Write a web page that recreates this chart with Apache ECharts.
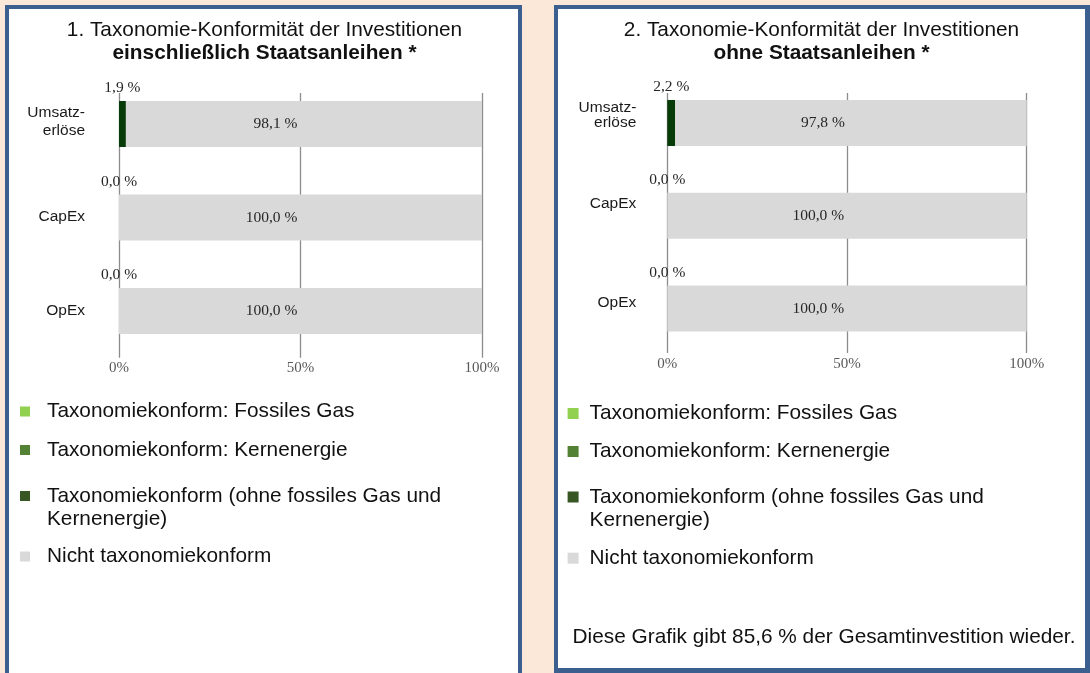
<!DOCTYPE html>
<html>
<head>
<meta charset="utf-8">
<script src="https://cdn.jsdelivr.net/npm/echarts@6/dist/echarts.min.js"></script>
<style>
  html, body { margin:0; padding:0; width:1090px; height:673px; overflow:hidden; background:#fce8d8; }
  .panel { position:absolute; background:#fff; border:4px solid #3b5f8f; box-sizing:border-box; }
  #p1 { left:5px; top:5px; width:517px; height:700px; }
  #p2 { left:554px; top:5px; width:536px; height:668px; border-right-width:5px; border-bottom-width:5px; }
  #chart { position:absolute; left:0; top:0; width:1090px; height:673px; }
</style>
</head>
<body>
<div class="panel" id="p1"></div>
<div class="panel" id="p2"></div>
<div id="chart"></div>
<script>
// Kategorien und Werte (in %)
var categories = ['Umsatz-\nerlöse', 'CapEx', 'OpEx'];
var xTicks = [0, 50, 100];

// 1. einschließlich Staatsanleihen
var gasIncl = [0, 0, 0];
var nuclearIncl = [0, 0, 0];
var alignedIncl = [1.9, 0, 0];
var notAlignedIncl = [98.1, 100, 100];

// 2. ohne Staatsanleihen
var gasExcl = [0, 0, 0];
var nuclearExcl = [0, 0, 0];
var alignedExcl = [2.2, 0, 0];
var notAlignedExcl = [97.8, 100, 100];

var seriesNames = [
    'Taxonomiekonform: Fossiles Gas',
    'Taxonomiekonform: Kernenergie',
    'Taxonomiekonform (ohne fossiles Gas und Kernenergie)',
    'Nicht taxonomiekonform'
];
var legendColors = ['#92d050', '#548235', '#375623', '#d9d9d9'];
var barColors = ['#92d050', '#548235', '#073b07', '#d9d9d9'];

var sansFont = '"Liberation Sans", Arial, sans-serif';
var serifFont = '"Liberation Serif", "Times New Roman", serif';
var bigFont = 20.8;

function pct(v) {
    return v.toFixed(1).replace('.', ',') + ' %';
}

// Achsenbeschriftung links, mit kleinem Versatz nach oben je Kategorie
function catLabel(margin, lh, shift) {
    var rich = { t: { fontFamily: sansFont, fontSize: 15.5, color: '#1a1a1a', lineHeight: lh, align: 'right' } };
    for (var i = 0; i < shift.length; i++) {
        rich['g' + i] = { fontSize: 1, lineHeight: Math.max(1, shift[i] * 2) };
    }
    return {
        margin: margin, align: 'right', rich: rich,
        formatter: function (value, idx) {
            var lines = value.split('\n');
            return '{t|' + lines.join('}\n{t|') + '}\n{g' + idx + '| }';
        }
    };
}

function makeSeries(gi, values) {
    var list = [];
    for (var i = 0; i < values.length; i++) {
        var s = {
            name: seriesNames[i],
            type: 'bar',
            stack: 'g' + gi,
            xAxisIndex: gi,
            yAxisIndex: gi,
            barWidth: 46,
            data: values[i],
            itemStyle: { color: barColors[i] },
            emphasis: { disabled: true }
        };
        if (i == 2) {
            s.label = { show: true, position: 'top', distance: 5, fontFamily: serifFont, fontSize: 15.5, color: '#262626',
                formatter: function (p) { return pct(p.value); } };
        } else if (i == 3) {
            s.label = { show: true, position: ['42%', '50%'], align: 'center', verticalAlign: 'middle',
                fontFamily: serifFont, fontSize: 15.5, color: '#262626',
                formatter: function (p) { return pct(p.value); } };
        }
        list.push(s);
    }
    return list;
}

function makeLegends(left, tops, iconSize, textPad) {
    var out = [];
    for (var i = 0; i < seriesNames.length; i++) {
        var two = (i == 2);
        var lg = {
            left: left, top: tops[i], padding: 0, orient: 'vertical',
            itemWidth: iconSize, itemHeight: iconSize, icon: 'rect', selectedMode: false,
            data: [{ name: seriesNames[i], itemStyle: { color: legendColors[i] } }],
            textStyle: {
                fontFamily: sansFont, fontSize: bigFont, color: '#111', lineHeight: 20,
                padding: [0, 0, 0, textPad]
            }
        };
        if (two) {
            // erste Zeile auf Höhe des Symbols
            lg.formatter = function (n) {
                var parts = n.split(' und ');
                return '{g| }\n{t|' + parts[0] + ' und}\n{t|' + parts[1] + '}';
            };
            lg.textStyle.rich = {
                g: { fontSize: 1, lineHeight: 23 },
                t: { fontFamily: sansFont, fontSize: bigFont, color: '#111', lineHeight: 23 }
            };
        }
        out.push(lg);
    }
    return out;
}

var chart = echarts.init(document.getElementById('chart'));

var option = {
    animation: false,
    backgroundColor: 'transparent',
    title: [
        { text: '1. Taxonomie-Konformität der Investitionen', subtext: 'einschließlich Staatsanleihen *',
          left: 264.5, top: 18.5, padding: 0, itemGap: 0, textAlign: 'center',
          textStyle: { fontFamily: sansFont, fontSize: bigFont, fontWeight: 'normal', color: '#111', lineHeight: 23 },
          subtextStyle: { fontFamily: sansFont, fontSize: bigFont, fontWeight: 'bold', color: '#111', lineHeight: 23 } },
        { text: '2. Taxonomie-Konformität der Investitionen', subtext: 'ohne Staatsanleihen *',
          left: 821.5, top: 18.5, padding: 0, itemGap: 0, textAlign: 'center',
          textStyle: { fontFamily: sansFont, fontSize: bigFont, fontWeight: 'normal', color: '#111', lineHeight: 23 },
          subtextStyle: { fontFamily: sansFont, fontSize: bigFont, fontWeight: 'bold', color: '#111', lineHeight: 23 } },
        { text: 'Diese Grafik gibt 85,6 % der Gesamtinvestition wieder.',
          left: 824, top: 625.5, padding: 0, textAlign: 'center',
          textStyle: { fontFamily: sansFont, fontSize: bigFont, fontWeight: 'normal', color: '#111', lineHeight: 23 } }
    ],
    legend: makeLegends(20, [401, 439.5, 461.5, 546], 10, 12)
        .concat(makeLegends(567.6, [403, 441, 462.5, 547.7], 11, 6)),
    grid: [
        { left: 119, width: 363, top: 77.25, height: 280.5 },
        { left: 119, width: 363, top: 93, height: 264.75 },
        { left: 667.3, width: 359.4, top: 76.6, height: 278.3 },
        { left: 667.3, width: 359.4, top: 93, height: 260 }
    ],
    xAxis: [
        { gridIndex: 0, type: 'value', min: xTicks[0], max: xTicks[2], interval: xTicks[1] - xTicks[0],
          splitLine: { show: false }, axisLine: { show: false }, axisTick: { show: false },
          axisLabel: { margin: 3, fontFamily: serifFont, fontSize: 15, color: '#595959', formatter: '{value}%' } },
        { gridIndex: 1, type: 'value', min: xTicks[0], max: xTicks[2], interval: xTicks[1] - xTicks[0],
          splitLine: { show: true, lineStyle: { color: '#8c8c8c', width: 1.3 } },
          axisLine: { show: false }, axisTick: { show: false }, axisLabel: { show: false } },
        { gridIndex: 2, type: 'value', min: xTicks[0], max: xTicks[2], interval: xTicks[1] - xTicks[0],
          splitLine: { show: false }, axisLine: { show: false }, axisTick: { show: false },
          axisLabel: { margin: 2, fontFamily: serifFont, fontSize: 15, color: '#595959', formatter: '{value}%' } },
        { gridIndex: 3, type: 'value', min: xTicks[0], max: xTicks[2], interval: xTicks[1] - xTicks[0],
          splitLine: { show: true, lineStyle: { color: '#8c8c8c', width: 1.3 } },
          axisLine: { show: false }, axisTick: { show: false }, axisLabel: { show: false } }
    ],
    yAxis: [
        { gridIndex: 0, type: 'category', inverse: true, data: categories,
          axisLine: { show: false }, axisTick: { show: false },
          axisLabel: catLabel(34, 18, [2, 0.5, 0.5]) },
        { gridIndex: 1, type: 'value', show: false },
        { gridIndex: 2, type: 'category', inverse: true, data: categories,
          axisLine: { show: false }, axisTick: { show: false },
          axisLabel: catLabel(31, 15, [7.5, 12, 5.5]) },
        { gridIndex: 3, type: 'value', show: false }
    ],
    series: makeSeries(0, [gasIncl, nuclearIncl, alignedIncl, notAlignedIncl])
        .concat(makeSeries(2, [gasExcl, nuclearExcl, alignedExcl, notAlignedExcl]))
};

chart.setOption(option);
</script>
</body>
</html>
